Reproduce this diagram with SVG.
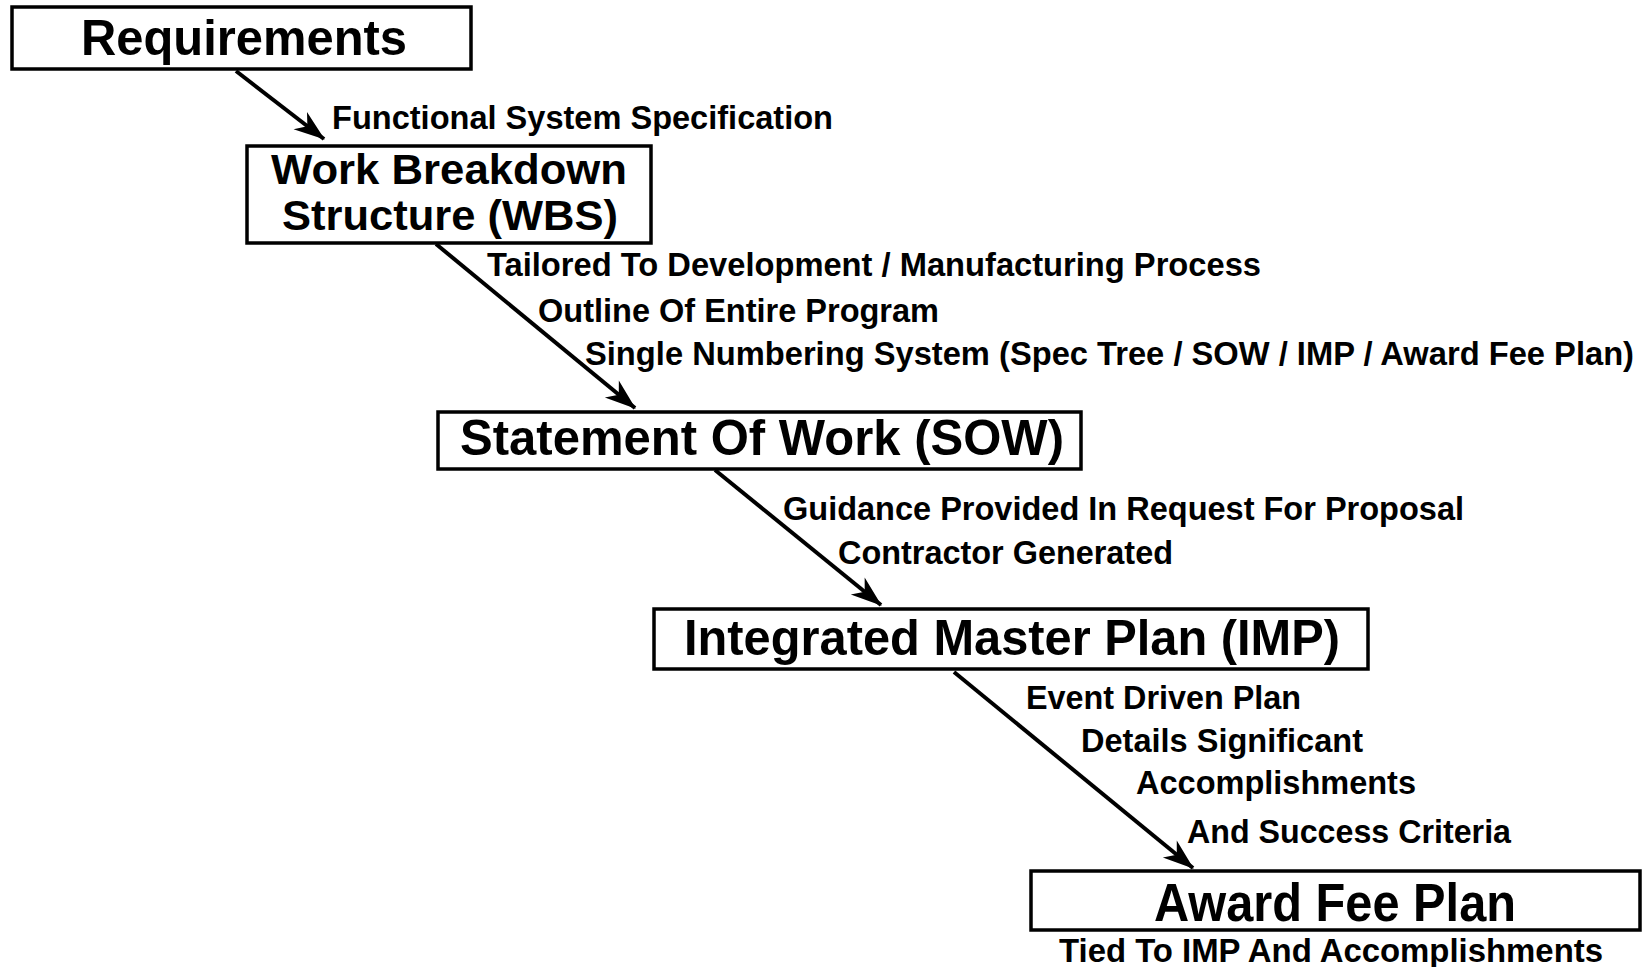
<svg xmlns="http://www.w3.org/2000/svg" width="1648" height="967" viewBox="0 0 1648 967">
<style>
.box{fill:#fff;stroke:#000;stroke-width:3.5}
.t{font-family:"Liberation Sans",Arial,sans-serif;font-weight:bold;fill:#000}
.big{font-size:50px}
.lbl{font-size:33px}
.conn line{stroke:#000;stroke-width:4;marker-end:url(#ah)}
</style>
<defs>
<marker id="ah" markerWidth="34" markerHeight="24" viewBox="-30 -12 32 24" refX="0" refY="0" orient="auto" markerUnits="userSpaceOnUse">
<path d="M1,0 L-30,-11 L-21,0 L-30,11 Z" fill="#000"/>
</marker>
</defs>
<rect width="1648" height="967" fill="#fff"/>
<g id="requirements">
<rect class="box" x="12" y="7" width="459" height="62"/>
<text class="t big" x="81" y="55" textLength="326" lengthAdjust="spacingAndGlyphs">Requirements</text>
</g>
<g id="wbs">
<rect class="box" x="247" y="146" width="404" height="97"/>
<text class="t" font-size="42" x="271" y="184" textLength="356" lengthAdjust="spacingAndGlyphs">Work Breakdown</text>
<text class="t" font-size="42" x="282" y="230" textLength="336" lengthAdjust="spacingAndGlyphs">Structure (WBS)</text>
</g>
<g id="sow">
<rect class="box" x="438" y="412" width="643" height="57"/>
<text class="t big" x="460" y="455" textLength="604" lengthAdjust="spacingAndGlyphs">Statement Of Work (SOW)</text>
</g>
<g id="imp">
<rect class="box" x="654" y="609" width="714" height="60"/>
<text class="t big" x="684" y="655" textLength="656" lengthAdjust="spacingAndGlyphs">Integrated Master Plan (IMP)</text>
</g>
<g id="awardfee">
<rect class="box" x="1031" y="871" width="609" height="59"/>
<text class="t" font-size="54" x="1154" y="921" textLength="362" lengthAdjust="spacingAndGlyphs">Award Fee Plan</text>
<text class="t lbl" x="1059" y="962" textLength="544" lengthAdjust="spacingAndGlyphs">Tied To IMP And Accomplishments</text>
</g>
<g id="connectors" class="conn">
<line x1="236" y1="71" x2="324" y2="139"/>
<line x1="436" y1="244" x2="635" y2="408"/>
<line x1="715" y1="470" x2="881" y2="605"/>
<line x1="954" y1="672" x2="1193" y2="868"/>
</g>
<g id="labels">
<text class="t lbl" x="332" y="129" textLength="501" lengthAdjust="spacingAndGlyphs">Functional System Specification</text>
<text class="t lbl" x="487" y="276" textLength="774" lengthAdjust="spacingAndGlyphs">Tailored To Development / Manufacturing Process</text>
<text class="t lbl" x="538" y="322" textLength="401" lengthAdjust="spacingAndGlyphs">Outline Of Entire Program</text>
<text class="t lbl" x="585" y="365" textLength="1049" lengthAdjust="spacingAndGlyphs">Single Numbering System (Spec Tree / SOW / IMP / Award Fee Plan)</text>
<text class="t lbl" x="783" y="520" textLength="681" lengthAdjust="spacingAndGlyphs">Guidance Provided In Request For Proposal</text>
<text class="t lbl" x="838" y="564" textLength="335" lengthAdjust="spacingAndGlyphs">Contractor Generated</text>
<text class="t lbl" x="1026" y="709" textLength="275" lengthAdjust="spacingAndGlyphs">Event Driven Plan</text>
<text class="t lbl" x="1081" y="752" textLength="282" lengthAdjust="spacingAndGlyphs">Details Significant</text>
<text class="t lbl" x="1136" y="794" textLength="280" lengthAdjust="spacingAndGlyphs">Accomplishments</text>
<text class="t lbl" x="1187" y="843" textLength="324" lengthAdjust="spacingAndGlyphs">And Success Criteria</text>
</g>
</svg>
